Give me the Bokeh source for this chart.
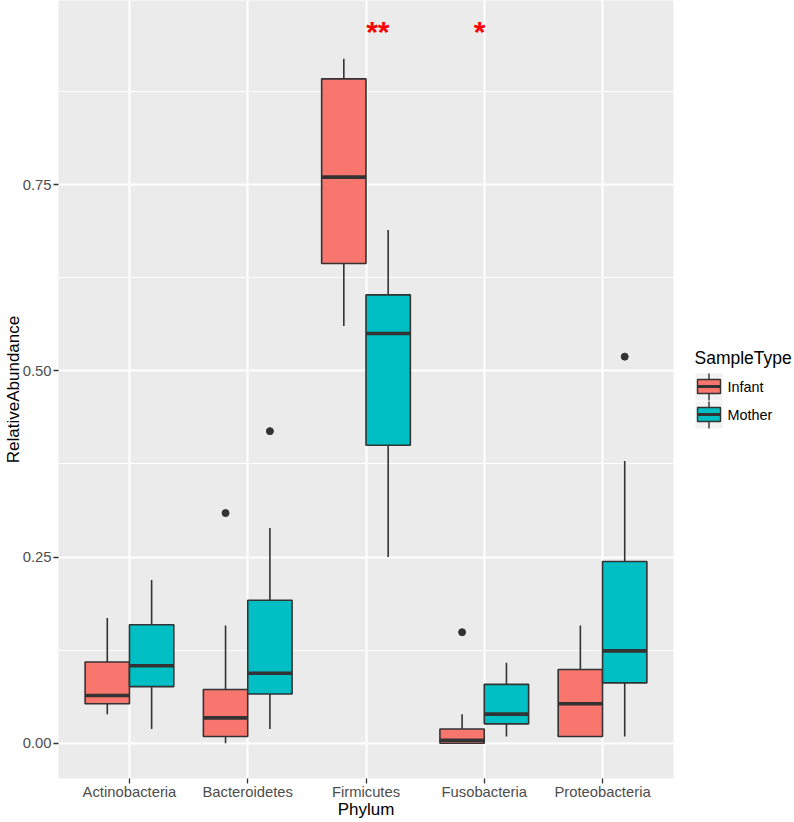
from bokeh.plotting import figure
from bokeh.layouts import row
from bokeh.models import Range1d, FixedTicker, ColumnDataSource
from bokeh.core.properties import value
from bokeh.embed import file_html
from bokeh.resources import INLINE

# ---------------- data ----------------
phyla = ["Actinobacteria", "Bacteroidetes", "Firmicutes", "Fusobacteria", "Proteobacteria"]
groups = ["Infant", "Mother"]
colors = ["#F8766D", "#00BFC4"]

infant_lower = [0.039, 0.000, 0.560, 0.000, 0.009]
infant_q1 = [0.053, 0.009, 0.644, 0.000, 0.009]
infant_med = [0.064, 0.034, 0.760, 0.004, 0.053]
infant_q3 = [0.109, 0.072, 0.892, 0.019, 0.099]
infant_upper = [0.168, 0.158, 0.919, 0.039, 0.158]

mother_lower = [0.019, 0.019, 0.250, 0.009, 0.009]
mother_q1 = [0.076, 0.066, 0.400, 0.026, 0.081]
mother_med = [0.104, 0.094, 0.550, 0.039, 0.124]
mother_q3 = [0.159, 0.192, 0.602, 0.079, 0.244]
mother_upper = [0.219, 0.289, 0.689, 0.108, 0.379]

outlier_phylum = ["Bacteroidetes", "Bacteroidetes", "Fusobacteria", "Proteobacteria"]
outlier_group = ["Infant", "Mother", "Infant", "Mother"]
outlier_value = [0.309, 0.419, 0.149, 0.519]

sig_labels = ["**", "*"]
sig_x = [3.10, 3.96]
sig_y = [0.956, 0.956]

y_ticks = [0.0, 0.25, 0.5, 0.75]
y_minor = [0.125, 0.375, 0.625, 0.875]
y_tick_labels = ["0.00", "0.25", "0.50", "0.75"]

# ---------------- layout ----------------
FONT = "Liberation Sans"
dodge = 0.1875
half = 0.1875
Y0, Y1 = -0.0474, 0.9972

p = figure(width=684, height=822, output_backend="svg", toolbar_location=None,
           x_range=Range1d(0.4, 5.6), y_range=Range1d(Y0, Y1),
           min_border_left=58, min_border_right=11, min_border_top=0, min_border_bottom=44)
p.background_fill_color = "#EBEBEB"
p.border_fill_color = "white"
p.outline_line_color = None

# grids
p.xgrid.ticker = FixedTicker(ticks=list(range(1, 6)))
p.xgrid.grid_line_color = "white"
p.xgrid.grid_line_width = 2
p.ygrid.ticker = FixedTicker(ticks=y_ticks, minor_ticks=y_minor)
p.ygrid.grid_line_color = "white"
p.ygrid.grid_line_width = 2
p.ygrid.minor_grid_line_color = "white"
p.ygrid.minor_grid_line_width = 1

# axes
p.xaxis.ticker = FixedTicker(ticks=list(range(1, 6)))
p.xaxis.major_label_overrides = {i + 1: n for i, n in enumerate(phyla)}
p.yaxis.ticker = FixedTicker(ticks=y_ticks, minor_ticks=[])
p.yaxis.major_label_overrides = {t: l for t, l in zip(y_ticks, y_tick_labels)}
for ax in (p.xaxis, p.yaxis):
    ax.axis_line_color = None
    ax.major_tick_line_color = "#333333"
    ax.major_tick_line_width = 1.3
    ax.major_tick_out = 5
    ax.major_tick_in = 0
    ax.minor_tick_line_color = None
    ax.major_label_text_font = FONT
    ax.major_label_text_font_size = "14.8px"
    ax.major_label_text_color = "#4D4D4D"
    ax.major_label_standoff = 0
    ax.axis_label_text_font = FONT
    ax.axis_label_text_font_size = "17px"
    ax.axis_label_text_font_style = "normal"
    ax.axis_label_text_color = "black"
    ax.axis_label_standoff = -3
p.yaxis.major_label_standoff = 2
p.xaxis.axis_label = "Phylum"
p.yaxis.axis_label = "RelativeAbundance"

# boxes
series = [
    (infant_lower, infant_q1, infant_med, infant_q3, infant_upper, -dodge, colors[0]),
    (mother_lower, mother_q1, mother_med, mother_q3, mother_upper, +dodge, colors[1]),
]
for lo, q1, med, q3, up, off, col in series:
    xc = [i + 1 + off for i in range(len(phyla))]
    src = ColumnDataSource(dict(xc=xc, left=[x - half for x in xc], right=[x + half for x in xc],
                                lo=lo, q1=q1, med=med, q3=q3, up=up))
    p.segment(x0="xc", y0="q3", x1="xc", y1="up", source=src, line_color="#333333", line_width=1.6)
    p.segment(x0="xc", y0="q1", x1="xc", y1="lo", source=src, line_color="#333333", line_width=1.6)
    p.quad(left="left", right="right", bottom="q1", top="q3", source=src,
           fill_color=col, line_color="#333333", line_width=1.6)
    p.segment(x0="left", y0="med", x1="right", y1="med", source=src,
              line_color="#333333", line_width=3.6)

ox = [phyla.index(ph) + 1 + (-dodge if g == "Infant" else dodge)
      for ph, g in zip(outlier_phylum, outlier_group)]
p.scatter(x=ox, y=outlier_value, size=7, color="#333333")

p.text(x=sig_x, y=sig_y, text=sig_labels, text_color="red", text_font=value(FONT),
       text_font_size="30px", text_font_style="bold", text_align="center",
       text_baseline="alphabetic")

# ---------------- legend (separate panel; its frame lines up with the main frame) ----------------
lg = figure(width=110, height=822, output_backend="svg", toolbar_location=None,
            x_range=Range1d(684, 794), y_range=Range1d(778, 0),
            x_axis_location=None, y_axis_location=None,
            min_border=0, min_border_left=0, min_border_right=0,
            min_border_top=0, min_border_bottom=0)
lg.grid.visible = False
lg.outline_line_color = None
lg.background_fill_color = "white"
lg.border_fill_color = "white"

lg.text(x=[694], y=[357], text=["SampleType"], text_font=value(FONT), text_font_size="17.5px",
        text_color="black", text_baseline="middle", text_align="left")
key_top = [373, 401]
for k, (g, col) in enumerate(zip(groups, colors)):
    t = key_top[k]
    lg.quad(left=[695], right=[722], top=[t], bottom=[t + 27], fill_color="#F2F2F2", line_color=None)
    lg.segment(x0=[708.5], y0=[t], x1=[708.5], y1=[t + 27], line_color="#333333", line_width=1.4)
    lg.quad(left=[697], right=[720], top=[t + 6], bottom=[t + 20], fill_color=col,
            line_color="#333333", line_width=1.4)
    lg.segment(x0=[697], y0=[t + 13], x1=[720], y1=[t + 13], line_color="#333333", line_width=2.8)
    lg.text(x=[727], y=[t + 13.5], text=[g], text_font=value(FONT), text_font_size="14.4px",
            text_color="black", text_baseline="middle", text_align="left")

layout = row(p, lg)
open("out.html", "w").write(file_html(layout, INLINE))
